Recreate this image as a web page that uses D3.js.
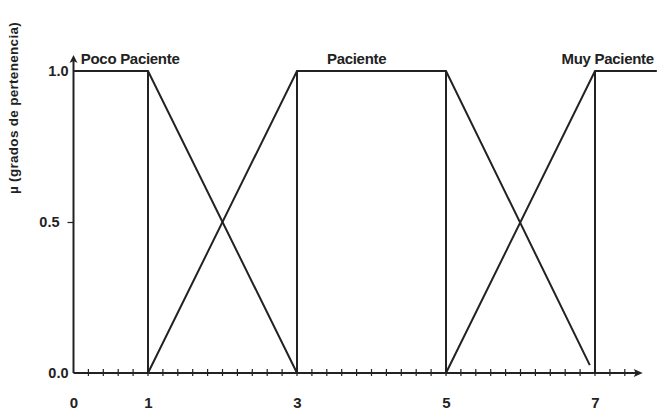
<!DOCTYPE html>
<html><head><meta charset="utf-8">
<script src="https://cdn.jsdelivr.net/npm/d3@7"></script>
<style>body{margin:0;background:#fff}svg{display:block}text{font-family:"Liberation Sans",Arial,sans-serif;font-weight:bold;fill:#222}</style>
</head><body><svg id="c" width="659" height="411"></svg>
<script>
// Data
const xTickLabels = [0, 1, 3, 5, 7];
const yTickValues = [0, 0.5, 1];
const minorTicks = d3.range(1, 38).map(i => i * 0.2);
const setNames = ["Poco Paciente", "Paciente", "Muy Paciente"];
const setLabelX = [0.76, 3.8, 7.17];
const pocoX = [0, 1, 3];
const pocoY = [1, 1, 0];
const pacienteX = [1, 3, 5, 6.93];
const pacienteY = [0, 1, 1, 0.026];
const muyX = [5, 7, 7.83];
const muyY = [0, 1, 1];
const verticalX = [1, 3, 5, 7];

const svg = d3.select("#c");
const x = d3.scaleLinear().domain([0, 7]).range([73.5, 595]);
const y = d3.scaleLinear().domain([0, 1]).range([373, 71]);
const col = "#222";
const ff = '"Liberation Sans",Arial,sans-serif';

const line = d3.line().x(d => x(d[0])).y(d => y(d[1]));
const series = [[pocoX, pocoY], [pacienteX, pacienteY], [muyX, muyY]];
series.forEach(([xs, ys]) => {
  svg.append("path").attr("d", line(xs.map((v, i) => [v, ys[i]])))
    .attr("fill", "none").attr("stroke", col).attr("stroke-width", 2);
});
verticalX.forEach(v => {
  svg.append("line").attr("x1", x(v)).attr("x2", x(v)).attr("y1", y(0)).attr("y2", y(1))
    .attr("stroke", col).attr("stroke-width", 2);
});

// x axis
const xEnd = 7.56;
svg.append("line").attr("x1", x(0)).attr("x2", x(xEnd)).attr("y1", y(0)).attr("y2", y(0))
  .attr("stroke", col).attr("stroke-width", 2);
svg.append("path").attr("d", `M${x(xEnd)+6},${y(0)} L${x(xEnd)-3},${y(0)-4} L${x(xEnd)-1},${y(0)} L${x(xEnd)-3},${y(0)+4}Z`).attr("fill", col);
svg.selectAll(".mt").data(minorTicks).enter().append("line")
  .attr("x1", d => x(d)).attr("x2", d => x(d)).attr("y1", y(0) - 4).attr("y2", y(0) + 3)
  .attr("stroke", col).attr("stroke-width", 1.2);
const xAxis = d3.axisBottom(x).tickValues(xTickLabels).tickSize(0).tickPadding(24).tickFormat(d3.format("d"));
const gx = svg.append("g").attr("transform", `translate(0,${y(0)})`).call(xAxis);
gx.select(".domain").remove();
gx.selectAll("text").attr("font-size", 15).style("font-family", ff).style("font-weight", "bold").attr("fill", col);

// y axis
svg.append("line").attr("x1", x(0)).attr("x2", x(0)).attr("y1", y(0)).attr("y2", 60)
  .attr("stroke", col).attr("stroke-width", 2);
svg.append("path").attr("d", `M${x(0)},55 L${x(0)-4},63 L${x(0)},61 L${x(0)+4},63Z`).attr("fill", col);
const yAxis = d3.axisLeft(y).tickValues(yTickValues).tickSize(0).tickPadding(6).tickFormat(d3.format(".1f"));
const gy = svg.append("g").attr("transform", `translate(${x(0)},0)`).call(yAxis);
gy.select(".domain").remove();
gy.selectAll("text").attr("font-size", 14.5).style("font-family", ff).style("font-weight", "bold").attr("fill", col)
  .attr("x", d => d === 0.5 ? -14 : -5);
gy.selectAll(".tick").filter(d => d === 0.5).append("line").attr("x1", -6).attr("x2", 0).attr("stroke", col).attr("stroke-width", 1.2);

// set labels
svg.selectAll(".sl").data(setNames).enter().append("text")
  .attr("x", (d, i) => x(setLabelX[i])).attr("y", 64).attr("text-anchor", "middle")
  .attr("font-size", 15).attr("letter-spacing", -0.3).text(d => d);

// y title
svg.append("text").attr("transform", "translate(18,108) rotate(-90)").attr("text-anchor", "middle")
  .attr("font-size", 13.5).attr("letter-spacing", 0.3).text("µ (grados de pertenencia)");
</script></body></html>
